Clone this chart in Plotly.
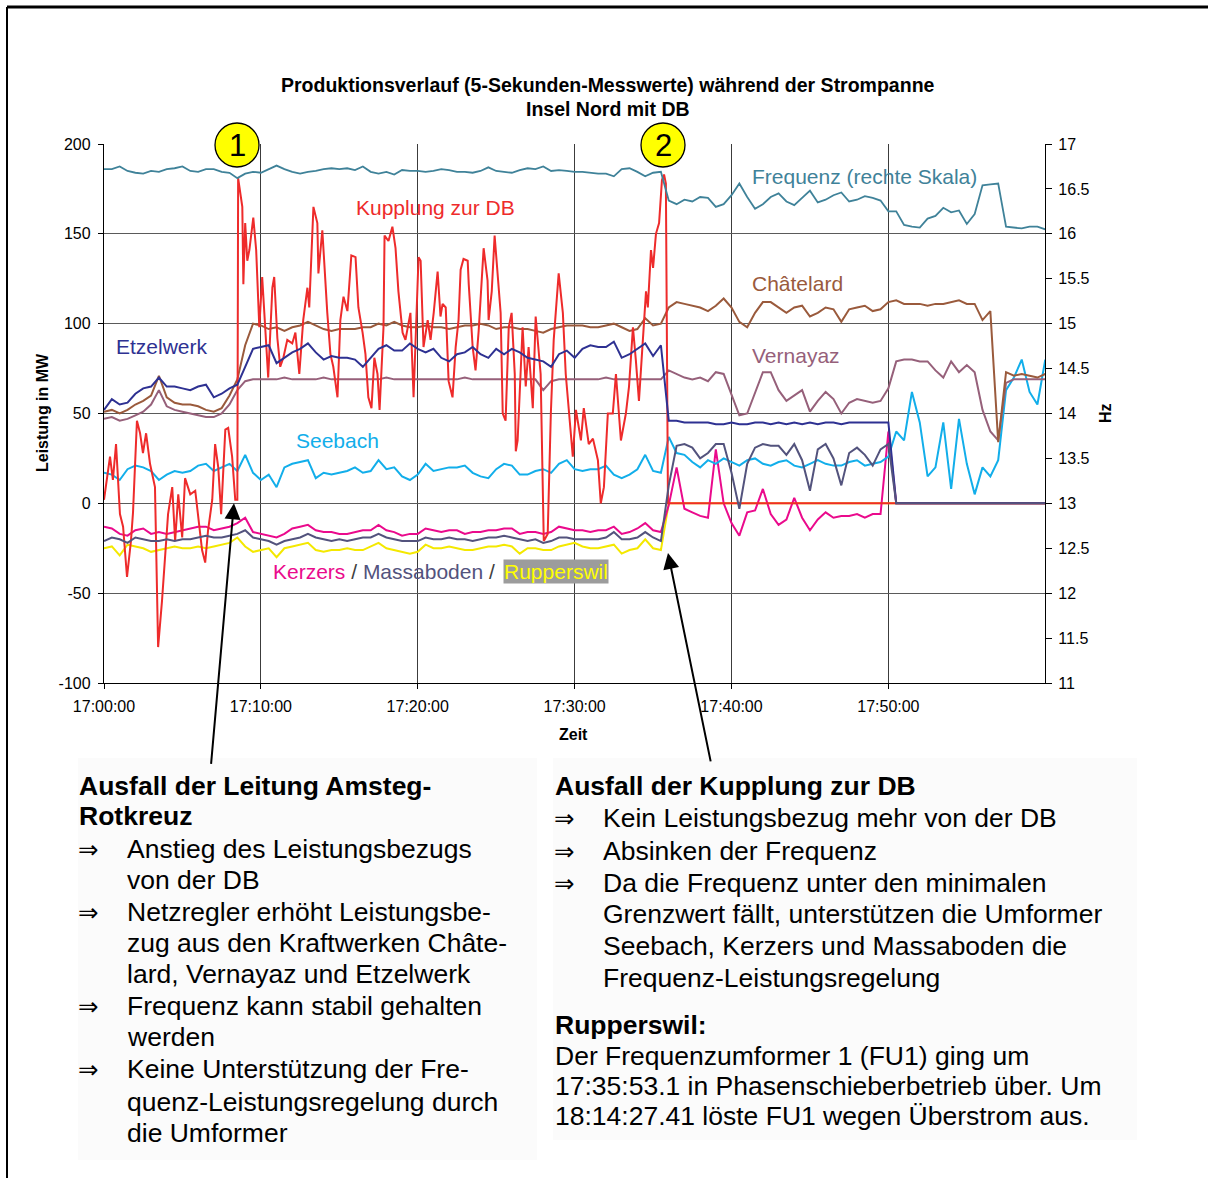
import pandas as pd
import plotly.graph_objects as go

# ---------------------------------------------------------------------------
# Measured values, 22.06.2005, 17:00-18:00 (5-second log, thinned to 30 s)
# ---------------------------------------------------------------------------
START = pd.Timestamp("2005-06-22 17:00:00")
GRID_S = list(range(0, 3601, 30))          # seconds after 17:00:00

FREQUENZ_HZ = [
    16.72, 16.72, 16.75, 16.70, 16.68, 16.67, 16.70, 16.69, 16.72, 16.73,
    16.75, 16.70, 16.69, 16.72, 16.72, 16.69, 16.68, 16.62, 16.67, 16.69,
    16.68, 16.72, 16.76, 16.72, 16.69, 16.67, 16.69, 16.70, 16.72, 16.73,
    16.72, 16.73, 16.71, 16.75, 16.69, 16.67, 16.69, 16.66, 16.71, 16.70,
    16.70, 16.69, 16.70, 16.72, 16.71, 16.69, 16.69, 16.68, 16.70, 16.74,
    16.70, 16.69, 16.68, 16.71, 16.73, 16.72, 16.75, 16.70, 16.71, 16.70,
    16.69, 16.69, 16.68, 16.67, 16.67, 16.64, 16.72, 16.73, 16.69, 16.64,
    16.68, 16.69, 16.37, 16.33, 16.38, 16.36, 16.41, 16.40, 16.30, 16.33,
    16.43, 16.56, 16.41, 16.28, 16.33, 16.41, 16.45, 16.36, 16.32, 16.40,
    16.48, 16.35, 16.38, 16.43, 16.46, 16.36, 16.38, 16.42, 16.40, 16.37,
    16.25, 16.25, 16.10, 16.08, 16.07, 16.17, 16.20, 16.29, 16.24, 16.26,
    16.11, 16.22, 16.54, 16.55, 16.56, 16.08, 16.07, 16.06, 16.08, 16.08,
    16.05,
]

ETZELWERK_MW = [
    52, 58, 55, 56, 61, 64, 65, 70, 65, 65,
    64, 63, 65, 66, 59, 61, 64, 66, 76, 86,
    87, 88, 78, 81, 84, 86, 89, 84, 80, 82,
    81, 81, 80, 76, 81, 86, 88, 85, 85, 89,
    86, 84, 86, 81, 79, 83, 84, 87, 83, 81,
    86, 83, 86, 84, 81, 80, 79, 76, 83, 85,
    81, 86, 88, 87, 87, 90, 81, 83, 86, 89,
    82, 88, 46, 46, 45, 45, 45, 45, 44, 44,
    45, 44, 44, 45, 45, 44, 45, 44, 45, 44,
    45, 44, 45, 45, 44, 45, 45, 45, 45, 45,
    45, 0, 0, 0, 0, 0, 0, 0, 0, 0,
    0, 0, 0, 0, 0, 0, 0, 0, 0, 0,
    0,
]

CHATELARD_MW = [
    51, 52, 50, 52, 55, 57, 60, 71, 59, 56,
    55, 55, 54, 52, 51, 53, 60, 69, 88, 100,
    99, 97, 98, 96, 98, 99, 101, 99, 97, 96,
    97, 97, 97, 98, 98, 100, 99, 101, 99, 98,
    98, 99, 98, 98, 97, 98, 99, 99, 100, 99,
    97, 98, 98, 97, 97, 96, 95, 97, 98, 99,
    99, 99, 98, 98, 99, 100, 98, 96, 97, 103,
    99, 100, 109, 112, 111, 110, 109, 107, 110, 114,
    109, 101, 98, 106, 112, 112, 109, 106, 109, 110,
    104, 106, 109, 108, 101, 108, 109, 110, 107, 108,
    112, 113, 111, 111, 111, 110, 111, 111, 112, 113,
    111, 111, 102, 107, 34, 73, 71, 72, 71, 70,
    72,
]

VERNAYAZ_MW = [
    47, 48, 46, 47, 49, 51, 55, 63, 54, 52,
    51, 50, 49, 48, 48, 50, 55, 63, 68, 69,
    69, 69, 69, 70, 69, 69, 69, 69, 70, 69,
    69, 69, 69, 69, 69, 69, 70, 69, 69, 69,
    69, 69, 69, 69, 69, 69, 70, 69, 69, 69,
    69, 69, 69, 69, 69, 69, 63, 68, 69, 69,
    69, 69, 69, 69, 70, 69, 69, 69, 69, 69,
    69, 69, 74, 72, 70, 69, 70, 68, 73, 72,
    60, 49, 50, 62, 73, 73, 63, 57, 60, 63,
    51, 57, 62, 58, 50, 56, 58, 57, 56, 57,
    64, 79, 80, 80, 79, 79, 74, 70, 79, 73,
    77, 73, 52, 40, 35, 67, 69, 69, 69, 69,
    69,
]

SEEBACH_MW = [
    17, 16, 13, 19, 21, 20, 18, 13, 16, 18,
    17, 18, 21, 22, 18, 20, 22, 18, 27, 17,
    13, 16, 9, 20, 22, 23, 24, 14, 17, 16,
    17, 18, 20, 17, 18, 24, 19, 20, 15, 13,
    16, 22, 18, 19, 20, 20, 21, 17, 15, 14,
    19, 22, 21, 16, 16, 18, 19, 17, 22, 24,
    19, 18, 19, 19, 21, 16, 14, 16, 19, 27,
    18, 17, 37, 28, 27, 23, 20, 24, 22, 25,
    23, 21, 24, 25, 22, 21, 23, 24, 21, 20,
    22, 24, 22, 21, 21, 23, 24, 21, 22, 23,
    26, 40, 35, 62, 45, 15, 20, 45, 8, 47,
    22, 5, 20, 15, 24, 63, 70, 80, 62, 55,
    80,
]

KERZERS_MW = [
    -13, -14, -17, -18, -15, -14, -17, -16, -17, -16,
    -15, -14, -13, -13, -15, -14, -13, -11, -8, -16,
    -17, -18, -19, -17, -14, -13, -12, -15, -16, -16,
    -17, -17, -16, -15, -15, -12, -15, -16, -18, -17,
    -17, -14, -15, -16, -15, -15, -17, -16, -16, -15,
    -15, -14, -14, -17, -16, -16, -17, -16, -13, -14,
    -15, -15, -16, -15, -15, -13, -17, -16, -14, -11,
    -15, -16, -1, 20, -3, -5, -7, -8, 30, 0,
    -11, -18, -5, -4, 8, -6, -12, -9, 3, -8,
    -15, -9, -5, -8, -7, -7, -6, -8, -6, -6,
    40, 0, 0, 0, 0, 0, 0, 0, 0, 0,
    0, 0, 0, 0, 0, 0, 0, 0, 0, 0,
    0,
]

MASSABODEN_MW = [
    -21, -19, -20, -22, -19, -20, -21, -21, -20, -21,
    -20, -20, -19, -18, -19, -19, -18, -17, -15, -19,
    -20, -21, -23, -21, -20, -19, -17, -19, -20, -21,
    -20, -21, -20, -19, -19, -17, -19, -20, -21, -21,
    -21, -19, -20, -20, -19, -20, -20, -21, -20, -19,
    -19, -18, -19, -20, -21, -20, -22, -21, -19, -19,
    -20, -20, -20, -20, -19, -16, -20, -20, -19, -16,
    -19, -21, 10, 32, 33, 31, 25, 28, 33, 33,
    17, -3, 22, 31, 33, 32, 32, 27, 33, 24,
    7, 30, 33, 25, 10, 28, 31, 27, 21, 30,
    33, 0, 0, 0, 0, 0, 0, 0, 0, 0,
    0, 0, 0, 0, 0, 0, 0, 0, 0, 0,
    0,
]

RUPPERSWIL_MW = [
    -25, -24, -29, -23, -24, -25, -27, -26, -25, -24,
    -25, -25, -24, -25, -24, -23, -22, -19, -24, -27,
    -26, -25, -30, -25, -24, -23, -22, -26, -27, -26,
    -26, -25, -26, -26, -24, -22, -25, -26, -27, -28,
    -27, -23, -25, -25, -24, -25, -26, -26, -25, -24,
    -24, -23, -24, -28, -25, -25, -26, -26, -24, -23,
    -22, -24, -25, -25, -24, -23, -28, -26, -25, -20,
    -25, -26, 0, 0, 0, 0, 0, 0, 0, 0,
    0, 0, 0, 0, 0, 0, 0, 0, 0, 0,
    0, 0, 0, 0, 0, 0, 0, 0, 0, 0,
    0, 0, 0, 0, 0, 0, 0, 0, 0, 0,
    0, 0, 0, 0, 0, 0, 0, 0, 0, 0,
    0,
]

# Coupling to DB: irregular samples (seconds after 17:00:00) to keep the peaks
KUPPLUNG_S = [
    0, 11, 23, 34, 46, 61, 73, 88, 103, 111,
    126, 138, 149, 161, 176, 195, 207, 222, 234, 245,
    261, 272, 284, 299, 310, 330, 349, 360, 375, 387,
    398, 414, 425, 437, 448, 464, 475, 490, 502, 510,
    513, 529, 533, 540, 548, 556, 571, 582, 594, 605,
    617, 628, 644, 651, 663, 674, 686, 701, 720, 732,
    747, 762, 778, 785, 801, 816, 820, 835, 854, 866,
    877, 893, 904, 916, 931, 946, 962, 973, 989, 1000,
    1011, 1023, 1034, 1046, 1054, 1069, 1073, 1088, 1103, 1115,
    1126, 1142, 1153, 1172, 1184, 1203, 1211, 1222, 1238, 1249,
    1261, 1276, 1287, 1295, 1307, 1318, 1333, 1345, 1356, 1364,
    1375, 1391, 1395, 1410, 1421, 1433, 1452, 1467, 1471, 1483,
    1494, 1506, 1517, 1525, 1536, 1548, 1559, 1571, 1575, 1582,
    1601, 1613, 1624, 1640, 1651, 1670, 1682, 1697, 1709, 1720,
    1739, 1755, 1766, 1793, 1805, 1824, 1835, 1854, 1870, 1889,
    1900, 1912, 1927, 1946, 1958, 1977, 1996, 2008, 2023, 2034,
    2046, 2061, 2073, 2080, 2092, 2100, 2111, 2123, 2134, 2142,
    2149, 2157, 3600,
]
KUPPLUNG_MW = [
    2, 14, 26, 13, 33, -6, -13, -41, -21, -5,
    46, 39, 28, 39, 22, 9, -80, -54, -26, -6,
    9, -21, 5, -19, 14, 5, 7, -6, -26, -33,
    -15, 2, 33, 20, -6, 41, 42, 26, 2, 2,
    181, 165, 122, 156, 135, 141, 159, 141, 98, 126,
    95, 70, 120, 126, 92, 76, 81, 91, 89, 95,
    72, 102, 120, 109, 165, 156, 128, 152, 106, 83,
    76, 59, 102, 115, 107, 138, 137, 109, 95, 83,
    59, 53, 81, 72, 52, 98, 149, 146, 154, 142,
    118, 95, 91, 106, 59, 137, 135, 87, 102, 91,
    106, 129, 104, 111, 109, 68, 59, 87, 102, 130,
    136, 135, 122, 87, 74, 96, 142, 124, 102, 118,
    149, 128, 106, 50, 46, 98, 106, 72, 29, 35,
    98, 65, 87, 53, 104, 72, -21, -17, 50, 91,
    128, 106, 72, 26, 52, 35, 53, 33, 36, 24,
    0, 9, 50, 50, 72, 35, 50, 65, 98, 80,
    57, 91, 118, 109, 141, 131, 150, 156, 180, 183,
    178, 0, 0,
]

TICK_MINUTES = [0, 10, 20, 30, 40, 50]
MW_TICKS = [-100, -50, 0, 50, 100, 150, 200]
MW_TICK_TEXT = ["-100", "-50", "0", "50", "100", "150", "200"]

# ---------------------------------------------------------------------------
FONT = "Arial, Liberation Sans, Helvetica, sans-serif"
ARROW_FONT = "DejaVu Sans, Arial, sans-serif"

COL = {
    "freq": "#3f8299",
    "kupplung": "#ee2b2b",
    "chatelard": "#9a5a3c",
    "etzelwerk": "#2e3192",
    "vernayaz": "#96607a",
    "seebach": "#12aeea",
    "kerzers": "#ea0a8c",
    "massaboden": "#53537d",
    "rupperswil": "#f4e800",
}


def at(seconds):
    return [START + pd.Timedelta(seconds=int(s)) for s in seconds]


T = at(GRID_S)

# page geometry in pixels
W, H = 1208, 1178
X0, X1, Y0, Y1 = 104, 1045, 144, 683


def fx(p):
    return (p - X0) / (X1 - X0)


def fy(p):
    return (Y1 - p) / (Y1 - Y0)


fig = go.Figure()


def line(x, y, color, name, axis="y", width=2.0):
    fig.add_trace(go.Scatter(
        x=x, y=y, mode="lines", name=name, yaxis=axis,
        line=dict(color=color, width=width), showlegend=False,
        hoverinfo="skip",
    ))


line(T, FREQUENZ_HZ, COL["freq"], "Frequenz", axis="y2", width=1.8)
line(T, RUPPERSWIL_MW, COL["rupperswil"], "Rupperswil")
line(T, KERZERS_MW, COL["kerzers"], "Kerzers")
line(T, SEEBACH_MW, COL["seebach"], "Seebach")
line(T, VERNAYAZ_MW, COL["vernayaz"], "Vernayaz")
line(T, CHATELARD_MW, COL["chatelard"], "Châtelard")
line(at(KUPPLUNG_S), KUPPLUNG_MW, COL["kupplung"], "Kupplung zur DB")
line(T, ETZELWERK_MW, COL["etzelwerk"], "Etzelwerk")
line(T, MASSABODEN_MW, COL["massaboden"], "Massaboden")

ann = []


def text(x, y, s, size, color="black", bold=False, anchor="left", **kw):
    if bold:
        s = "<b>" + s + "</b>"
    d = dict(x=fx(x), y=fy(y), xref="paper", yref="paper", text=s,
             showarrow=False, xanchor=anchor, yanchor="middle",
             font=dict(family=kw.pop("family", FONT), size=size, color=color))
    d.update(kw)
    ann.append(d)


# titles
text(608, 85, "Produktionsverlauf (5-Sekunden-Messwerte) während der Strompanne",
     19.5, bold=True, anchor="center")
text(608, 109, "Insel Nord mit DB", 19.5, bold=True, anchor="center")
text(42, 413, "Leistung in MW", 16, bold=True, anchor="center", textangle=-90)
text(1105, 413, "Hz", 16, bold=True, anchor="center", textangle=-90)
text(573, 734, "Zeit", 16, bold=True, anchor="center")

# series labels
text(750, 176, "Frequenz (rechte Skala)", 21, COL["freq"])
text(354, 207, "Kupplung zur DB", 21, COL["kupplung"])
text(750, 283, "Châtelard", 21, COL["chatelard"])
text(114, 346, "Etzelwerk", 21, COL["etzelwerk"])
text(750, 355, "Vernayaz", 21, COL["vernayaz"])
text(294, 441, "Seebach", 21, COL["seebach"])
text(271, 571,
     f"<span style='color:{COL['kerzers']}'>Kerzers</span> / "
     f"<span style='color:{COL['massaboden']}'>Massaboden</span> / ",
     21, "#404040")
text(503, 571, "Rupperswil", 21, "#ffff00", bgcolor="#9c9c9c", borderpad=0)

# event markers
shapes = []
for cx, label in ((237, "1"), (663, "2")):
    shapes.append(dict(type="circle", xref="paper", yref="paper",
                       x0=fx(cx - 22), x1=fx(cx + 22), y0=fy(167), y1=fy(123),
                       fillcolor="#ffff00", line=dict(color="black", width=1.3),
                       layer="above"))
    text(cx, 146, label, 31, anchor="center")

# arrows from the explanations to the events
for tip_s, tip_mw, dx, dy in ((497, 0, -23, 262), (2157, -27.6, 43, 210)):
    ann.append(dict(x=START + pd.Timedelta(seconds=tip_s), y=tip_mw,
                    xref="x", yref="y", text="", showarrow=True,
                    ax=dx, ay=dy, arrowhead=2, arrowsize=1.6, arrowwidth=2,
                    arrowcolor="black", standoff=0))

# explanation blocks
LEFT_BLOCK = [
    ("h", "Ausfall der Leitung Amsteg-", 786),
    ("h", "Rotkreuz", 816),
    ("a", "Anstieg des Leistungsbezugs", 849),
    ("t", "von der DB", 880),
    ("a", "Netzregler erhöht Leistungsbe-", 912),
    ("t", "zug aus den Kraftwerken Châte-", 943),
    ("t", "lard, Vernayaz und Etzelwerk", 974),
    ("a", "Frequenz kann stabil gehalten", 1006),
    ("t", "werden", 1037),
    ("a", "Keine Unterstützung der Fre-", 1069),
    ("t", "quenz-Leistungsregelung durch", 1102),
    ("t", "die Umformer", 1133),
]
RIGHT_BLOCK = [
    ("h", "Ausfall der Kupplung zur DB", 786),
    ("a", "Kein Leistungsbezug mehr von der DB", 818),
    ("a", "Absinken der Frequenz", 851),
    ("a", "Da die Frequenz unter den minimalen", 883),
    ("t", "Grenzwert fällt, unterstützen die Umformer", 914),
    ("t", "Seebach, Kerzers und Massaboden die", 946),
    ("t", "Frequenz-Leistungsregelung", 978),
    ("h", "Rupperswil:", 1025),
    ("p", "Der Frequenzumformer 1 (FU1) ging um", 1056),
    ("p", "17:35:53.1 in Phasenschieberbetrieb über. Um", 1086),
    ("p", "18:14:27.41 löste FU1 wegen Überstrom aus.", 1116),
]
BODY = 26.5
for left, block in ((77, LEFT_BLOCK), (553, RIGHT_BLOCK)):
    for kind, s, y in block:
        if kind == "h":
            text(left, y, s, BODY, bold=True)
        elif kind == "p":
            text(left, y, s, BODY)
        else:
            if kind == "a":
                text(left - 1, y, "⇒", BODY - 2, family=ARROW_FONT)
            text(left + 48, y, s, BODY)

# faint panels behind the explanations
for x0, x1, y0, y1 in ((78, 537, 758, 1160), (553, 1137, 758, 1140)):
    shapes.append(dict(type="rect", xref="paper", yref="paper",
                       x0=fx(x0), x1=fx(x1), y0=fy(y1), y1=fy(y0),
                       fillcolor="#fbfbfb", line=dict(width=0), layer="below"))

# page frame
shapes.append(dict(type="line", xref="paper", yref="paper",
                   x0=fx(7), x1=fx(1208), y0=fy(7), y1=fy(7),
                   line=dict(color="black", width=3)))
shapes.append(dict(type="line", xref="paper", yref="paper",
                   x0=fx(7), x1=fx(7), y0=fy(7), y1=fy(1178),
                   line=dict(color="black", width=2)))

tick_font = dict(family=FONT, size=16, color="black")
fig.update_layout(
    width=W, height=H,
    margin=dict(l=X0, r=W - X1, t=Y0, b=H - Y1, pad=0),
    paper_bgcolor="white", plot_bgcolor="white",
    font=dict(family=FONT, color="black"),
    showlegend=False,
    xaxis=dict(
        type="date",
        range=[START, START + pd.Timedelta(seconds=3599)],
        tickvals=[START + pd.Timedelta(minutes=m) for m in TICK_MINUTES],
        tickformat="%H:%M:%S",
        ticks="outside", ticklen=5, tickcolor="black",
        showgrid=True, gridcolor="#3c3c3c", gridwidth=1,
        showline=True, linecolor="black", linewidth=1.3,
        zeroline=False, tickfont=tick_font, ticklabelstandoff=4,
    ),
    yaxis=dict(
        range=[-100, 200], tickvals=MW_TICKS, ticktext=MW_TICK_TEXT,
        ticks="outside", ticklen=5, tickcolor="black",
        showgrid=True, gridcolor="#5a5a5a", gridwidth=1.3,
        showline=True, linecolor="black", linewidth=1.3,
        zeroline=False, tickfont=tick_font, ticklabelstandoff=4,
    ),
    yaxis2=dict(
        range=[11, 17], tick0=11, dtick=0.5,
        overlaying="y", side="right",
        ticks="outside", ticklen=6, tickcolor="black",
        showgrid=False, showline=True, linecolor="black", linewidth=1.3,
        zeroline=False, tickfont=tick_font, ticklabelstandoff=3,
    ),
    annotations=ann,
    shapes=shapes,
)

fig.write_html("out.html")
